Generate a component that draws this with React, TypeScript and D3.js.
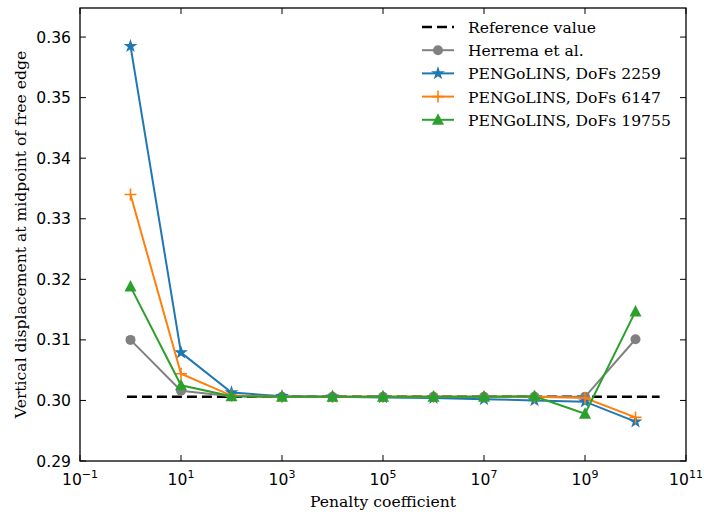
import React, { useEffect, useRef } from 'react';
import * as d3 from 'd3';

const penalties = [1e0, 1e1, 1e2, 1e3, 1e4, 1e5, 1e6, 1e7, 1e8, 1e9, 1e10];
const referenceValue = 0.3006;
const referenceSpan = [0.85, 3e10];
const herrema = [0.3100, 0.3016, 0.3007, 0.3006, 0.3006, 0.3006, 0.3006, 0.3006, 0.3006, 0.3006, 0.3101];
const dofs2259 = [0.3585, 0.3079, 0.3013, 0.3007, 0.3006, 0.3005, 0.3004, 0.3002, 0.3000, 0.2998, 0.2965];
const dofs6147 = [0.3340, 0.3044, 0.3008, 0.3006, 0.3006, 0.3006, 0.3006, 0.3006, 0.3006, 0.3004, 0.2972];
const dofs19755 = [0.3188, 0.3025, 0.3007, 0.3006, 0.3006, 0.3006, 0.3006, 0.3006, 0.3007, 0.2978, 0.3147];
const xTickExps = [-1, 1, 3, 5, 7, 9, 11];
const yTicks = [0.29, 0.30, 0.31, 0.32, 0.33, 0.34, 0.35, 0.36];

const series = [
  { name: 'Herrema et al.', values: herrema, color: '#808080', marker: 'circle' },
  { name: 'PENGoLINS, DoFs 2259', values: dofs2259, color: '#1f77b4', marker: 'star' },
  { name: 'PENGoLINS, DoFs 6147', values: dofs6147, color: '#ff7f0e', marker: 'plus' },
  { name: 'PENGoLINS, DoFs 19755', values: dofs19755, color: '#2ca02c', marker: 'triangle' },
];

const SERIF = 'DejaVu Serif';
const SANS = 'DejaVu Sans';
const FS = 15.6;

export default function App() {
  const ref = useRef<SVGSVGElement>(null);

  useEffect(() => {
    const width = 704;
    const height = 515;
    const margin = { top: 8, left: 80, bottom: 54, right: 18 };
    const iw = width - margin.left - margin.right;
    const ih = height - margin.top - margin.bottom;

    const svg = d3.select(ref.current);
    svg.selectAll('*').remove();
    svg.attr('width', width).attr('height', height);

    const g = svg.append('g').attr('transform', `translate(${margin.left},${margin.top})`);

    const x = d3.scaleLog().domain([1e-1, 1e11]).range([0, iw]);
    const y = d3.scaleLinear().domain([0.29, 0.3648]).range([ih, 0]);

    // ticks point inward on all four sides
    const tl = 6;
    xTickExps.forEach((e) => {
      const px = x(Math.pow(10, e));
      g.append('line').attr('x1', px).attr('x2', px).attr('y1', ih).attr('y2', ih - tl).attr('stroke', '#000').attr('stroke-width', 1);
      g.append('line').attr('x1', px).attr('x2', px).attr('y1', 0).attr('y2', tl).attr('stroke', '#000').attr('stroke-width', 1);
      const t = g.append('text')
        .attr('x', px).attr('y', ih + 24)
        .attr('text-anchor', 'middle')
        .attr('font-family', SANS).attr('font-size', FS);
      t.append('tspan').text('10');
      t.append('tspan').attr('dy', -7).attr('font-size', 11).text(e < 0 ? '\u2212' + Math.abs(e) : String(e));
    });
    yTicks.forEach((v) => {
      const py = y(v);
      g.append('line').attr('x1', 0).attr('x2', tl).attr('y1', py).attr('y2', py).attr('stroke', '#000').attr('stroke-width', 1);
      g.append('line').attr('x1', iw).attr('x2', iw - tl).attr('y1', py).attr('y2', py).attr('stroke', '#000').attr('stroke-width', 1);
      g.append('text')
        .attr('x', -9).attr('y', py + 5.5)
        .attr('text-anchor', 'end')
        .attr('font-family', SANS).attr('font-size', FS)
        .text(v.toFixed(2));
    });

    g.append('rect').attr('width', iw).attr('height', ih).attr('fill', 'none').attr('stroke', '#000').attr('stroke-width', 1.3);

    // reference line
    g.append('line')
      .attr('x1', x(referenceSpan[0])).attr('x2', x(referenceSpan[1]))
      .attr('y1', y(referenceValue)).attr('y2', y(referenceValue))
      .attr('stroke', '#000').attr('stroke-width', 2.6).attr('stroke-dasharray', '10,5');

    const line = d3.line<number>().x((_, i) => x(penalties[i])).y((d) => y(d));

    const drawMarker = (sel: any, kind: string, color: string, cx: number, cy: number) => {
      if (kind === 'circle') {
        sel.append('circle').attr('cx', cx).attr('cy', cy).attr('r', 5).attr('fill', color);
      } else if (kind === 'star') {
        sel.append('path').attr('d', d3.symbol().type(d3.symbolStar).size(60)()).attr('transform', `translate(${cx},${cy})`).attr('fill', color);
      } else if (kind === 'plus') {
        sel.append('path').attr('d', `M${cx - 6},${cy}H${cx + 6}M${cx},${cy - 6}V${cy + 6}`).attr('stroke', color).attr('stroke-width', 1.6).attr('fill', 'none');
      } else {
        sel.append('path').attr('d', `M${cx},${cy - 6.5}L${cx + 6},${cy + 5}L${cx - 6},${cy + 5}Z`).attr('fill', color);
      }
    };

    series.forEach((s) => {
      const sg = g.append('g');
      sg.append('path').attr('d', line(s.values)).attr('fill', 'none').attr('stroke', s.color).attr('stroke-width', 2);
      s.values.forEach((v, i) => drawMarker(sg, s.marker, s.color, x(penalties[i]), y(v)));
    });

    // legend
    const lx = 422 - margin.left;
    const ly0 = 27 - margin.top;
    const dy = 23.2;
    const items = [{ name: 'Reference value', color: '#000', marker: 'dash' }, ...series];
    items.forEach((it, i) => {
      const yy = ly0 + i * dy;
      if (it.marker === 'dash') {
        g.append('line').attr('x1', lx).attr('x2', lx + 32).attr('y1', yy).attr('y2', yy)
          .attr('stroke', '#000').attr('stroke-width', 2.6).attr('stroke-dasharray', '10,5');
      } else {
        g.append('line').attr('x1', lx).attr('x2', lx + 32).attr('y1', yy).attr('y2', yy).attr('stroke', it.color).attr('stroke-width', 2);
        drawMarker(g, it.marker, it.color, lx + 16, yy);
      }
      g.append('text').attr('x', lx + 46).attr('y', yy + 6)
        .attr('font-family', SERIF).attr('font-size', FS).text(it.name);
    });

    // axis labels
    svg.append('text')
      .attr('x', margin.left + iw / 2).attr('y', 507)
      .attr('text-anchor', 'middle').attr('font-family', SERIF).attr('font-size', FS)
      .text('Penalty coefficient');
    svg.append('text')
      .attr('transform', `translate(26,${margin.top + ih / 2}) rotate(-90)`)
      .attr('text-anchor', 'middle').attr('font-family', SERIF).attr('font-size', FS)
      .text('Vertical displacement at midpoint of free edge');
  }, []);

  return (
    <div style={{ position: 'absolute', left: 0, top: 0 }}>
      <svg ref={ref}></svg>
    </div>
  );
}
